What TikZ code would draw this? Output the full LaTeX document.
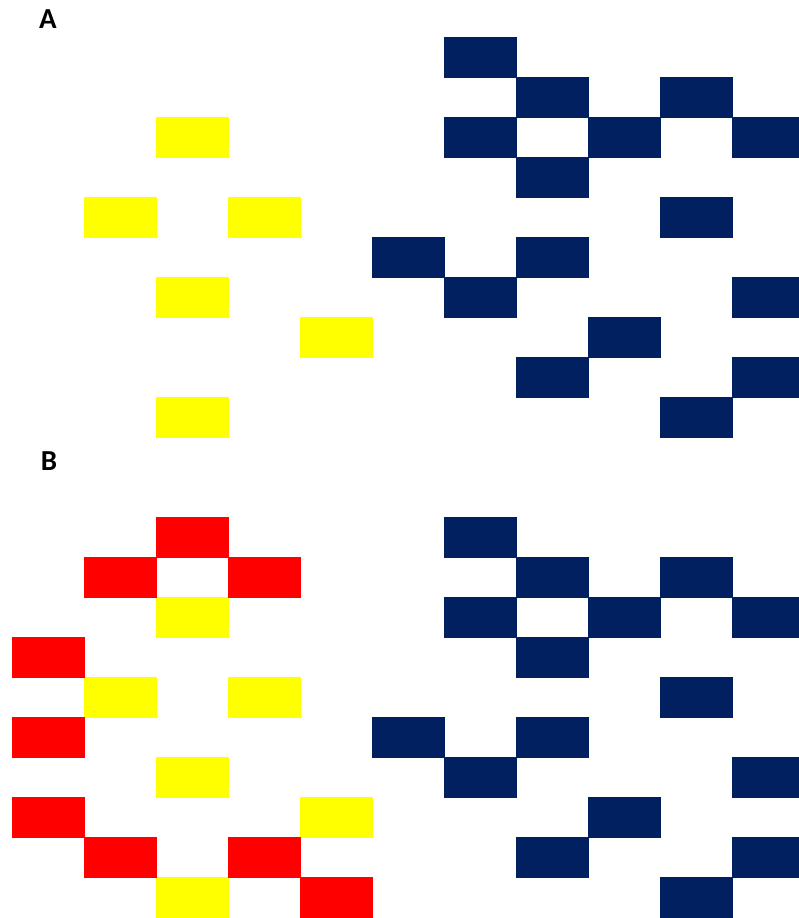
\documentclass[tikz,border=0pt]{standalone}
\usepackage{fontspec}
\setmainfont{Carlito}
\definecolor{navy}{HTML}{002060}
\definecolor{yel}{HTML}{FFFF00}
\definecolor{rd}{HTML}{FF0000}
\begin{document}
\begin{tikzpicture}[x=1pt,y=-1pt,
  lbl/.style={inner sep=0pt,font=\fontsize{29}{29}\selectfont\bfseries}]
\useasboundingbox (0,0) rectangle (799,918);
\newcommand\cellA[3]{\fill[#1] ({12+72*#2},{37+40*#3}) rectangle ++(73,40.5);}
\node[lbl] (labA) at (48,19.5) {A};
\node[lbl] (labB) at (49,461) {B};
% Part A yellow
\foreach \c/\r in {2/2,1/4,3/4,2/6,4/7,2/9}{\cellA{yel}{\c}{\r}}
% Part A blue
\foreach \c/\r in {6/0,7/1,9/1,6/2,8/2,10/2,7/3,9/4,5/5,7/5,6/6,10/6,8/7,7/8,10/8,9/9}{\cellA{navy}{\c}{\r}}
% Part B yellow
\foreach \c/\r in {2/14,1/16,3/16,2/18,4/19,2/21}{\cellA{yel}{\c}{\r}}
% Part B red
\foreach \c/\r in {2/12,1/13,3/13,0/15,0/17,0/19,1/20,3/20,4/21}{\cellA{rd}{\c}{\r}}
% Part B blue
\foreach \c/\r in {6/12,7/13,9/13,6/14,8/14,10/14,7/15,9/16,5/17,7/17,6/18,10/18,8/19,7/20,10/20,9/21}{\cellA{navy}{\c}{\r}}
\end{tikzpicture}
\end{document}
